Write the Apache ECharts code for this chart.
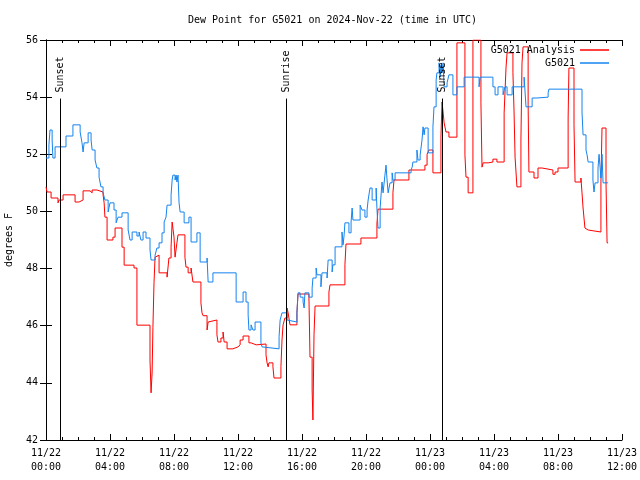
<!DOCTYPE html>
<html>
<head>
<meta charset="utf-8">
<script src="https://cdn.jsdelivr.net/npm/echarts@6/dist/echarts.min.js"></script>
<style>html,body{margin:0;padding:0;background:#fff}#c{width:640px;height:480px}</style>
</head>
<body>
<div id="c"></div>
<script>
// minutes since 2024-11-22 00:00 UTC
const analysisTimes = [0,4,19,45,49,64,109,124,139,165,173,191,214,218,221,229,251,259,285,293,330,341,390,394,398,401,405,409,413,424,454,461,469,473,480,484,491,495,521,525,533,544,551,581,585,589,604,608,615,641,645,656,664,668,679,701,720,728,739,761,769,788,825,829,833,836,851,855,881,885,889,896,904,908,915,941,945,986,990,998,1001,1005,1009,1061,1065,1121,1125,1181,1241,1245,1301,1305,1361,1421,1429,1436,1451,1481,1485,1489,1493,1500,1511,1541,1571,1575,1583,1601,1631,1635,1639,1658,1676,1691,1718,1725,1729,1751,1755,1759,1766,1781,1785,1789,1808,1811,1830,1845,1860,1901,1909,1920,1958,1961,1980,1984,2006,2010,2014,2021,2025,2033,2081,2085,2100,2104,2108];
const analysisValues = [50.86,50.68,50.47,50.3,50.4,50.58,50.33,50.4,50.72,50.65,50.75,50.68,50.58,50.3,49.8,49.0,49.1,49.42,48.75,48.12,48.02,46.02,44.8,43.65,44.38,45.95,47.5,48.4,48.47,47.85,47.7,48.37,48.75,49.63,49.1,48.4,48.9,49.18,48.4,48.05,47.85,48.02,47.53,46.8,46.45,46.35,45.85,46.13,46.2,45.68,45.43,45.57,45.78,45.43,45.19,45.26,45.33,45.5,45.64,45.4,45.33,45.36,44.98,44.7,44.56,44.7,44.56,44.17,44.56,45.5,46.03,46.27,46.62,46.45,46.03,46.45,47.11,47.0,44.9,43.75,42.7,45.68,46.69,47.18,47.43,48.13,48.86,49.07,49.56,50.08,50.65,51.1,51.45,51.62,52.0,52.15,51.35,52.6,53.83,53.48,53.1,52.78,52.6,55.9,51.98,51.2,50.65,56.0,53.8,51.55,51.7,51.73,51.83,51.73,53.45,55.02,55.55,54.85,53.55,51.9,50.86,52.5,55.2,55.76,53.73,51.38,51.17,51.52,51.45,51.3,51.38,51.52,53.27,55.02,53.03,51.03,51.17,50.65,50.12,49.42,49.35,49.28,51.03,52.92,51.03,48.9,48.9];

const stationTimes = [0,11,15,23,26,34,75,101,128,135,139,143,158,169,173,184,191,199,206,214,221,233,240,255,263,270,285,308,315,323,341,349,356,364,375,390,394,409,416,424,435,443,450,454,469,473,476,484,488,491,495,499,503,518,536,544,566,578,604,608,626,713,739,750,758,761,769,776,784,806,810,814,874,878,885,904,908,941,945,953,964,968,971,986,998,1001,1013,1016,1031,1035,1054,1058,1073,1076,1084,1110,1114,1118,1121,1136,1144,1148,1151,1178,1185,1196,1204,1208,1215,1223,1238,1241,1245,1253,1260,1264,1271,1275,1279,1283,1290,1298,1301,1309,1369,1373,1376,1391,1395,1403,1410,1414,1418,1421,1433,1451,1455,1463,1466,1474,1478,1481,1485,1489,1493,1504,1511,1526,1541,1568,1624,1628,1676,1684,1695,1714,1721,1729,1748,1793,1800,1823,1841,1883,1886,2010,2014,2025,2029,2033,2051,2055,2059,2070,2074,2081,2085,2089,2108];
const stationValues = [51.87,52.33,52.85,52.5,51.87,52.26,52.64,53.03,52.78,52.4,52.08,52.4,52.75,52.5,52.15,51.8,51.52,51.2,50.86,50.65,50.4,49.98,50.3,50.05,49.6,49.8,49.95,49.35,49.0,49.28,49.14,49.28,49.0,49.28,49.07,48.65,48.3,48.47,48.72,48.9,49.25,49.63,49.8,50.22,50.57,51.1,51.27,51.1,51.27,51.03,51.27,50.3,49.98,49.6,49.8,48.93,49.25,48.23,48.37,47.53,47.85,46.83,47.18,46.83,46.38,45.85,46.03,45.85,46.13,45.4,45.26,45.19,45.61,46.2,46.45,46.2,46.13,46.45,47.15,47.0,46.83,46.62,47.15,47.0,47.32,47.67,48.02,47.78,47.36,47.85,47.67,48.3,47.88,48.13,48.76,49.28,48.83,49.18,49.6,49.25,49.63,50.12,49.7,50.22,50.05,49.8,50.05,50.4,50.82,50.4,50.82,50.12,49.42,50.12,51.03,50.65,51.27,51.62,51.1,50.65,51.0,51.35,51.1,51.35,51.45,51.55,51.73,52.15,51.8,51.97,52.5,52.96,52.68,52.92,52.05,52.96,53.66,54.6,54.85,55.2,54.7,55.12,54.85,55.2,54.36,54.5,54.78,54.08,54.36,54.7,54.36,54.7,54.36,54.08,54.36,54.08,54.36,54.08,54.36,54.7,53.66,53.97,54.0,54.15,54.28,53.48,52.68,52.15,51.98,51.73,51.1,50.68,51.0,51.52,52.0,51.17,52.0,51.0,51.0];

const eventTimes = [53, 900, 1485];
const eventLabels = ['Sunset', 'Sunrise', 'Sunset'];
const eventTop = 53.95;

const yMin = 42, yMax = 56, yStep = 2;
const xMin = 0, xMax = 2160, xStep = 240;
const seriesNames = ['G5021 Analysis', 'G5021'];
const titleText = 'Dew Point for G5021 on 2024-Nov-22 (time in UTC)';
const yName = 'degrees F';

const FONT = 'DejaVu Sans Mono';
const pairs = (t, v) => t.map((x, i) => [x, v[i]]);

function fmtX(v) {
  const day = 22 + Math.floor(v / 1440);
  const m = v % 1440;
  const hh = String(Math.floor(m / 60)).padStart(2, '0');
  const mm = String(m % 60).padStart(2, '0');
  return '11/' + day + '\n' + hh + ':' + mm;
}

const markData = [];
eventTimes.forEach((t, i) => {
  markData.push([{ coord: [t, yMin], label: { show: false } }, { coord: [t, eventTop] }]);
  markData.push([{ coord: [t, eventTop],
    lineStyle: { color: 'rgba(0,0,0,0)', width: 0 },
    label: { show: true, position: 'insideStart', formatter: eventLabels[i], distance: 6, color: '#000' } },
    { coord: [t, yMax] }]);
});

const chart = echarts.init(document.getElementById('c'), null, { renderer: 'canvas' });
chart.setOption({
  backgroundColor: '#ffffff',
  animation: false,
  textStyle: { fontFamily: FONT, fontSize: 10, color: '#000' },
  title: { text: titleText, left: 183, top: 10,
    textStyle: { fontFamily: FONT, fontSize: 10, fontWeight: 'normal', color: '#000' } },
  legend: {
    data: seriesNames, orient: 'vertical', right: 26, top: 40, align: 'right',
    icon: 'rect', itemWidth: 29, itemHeight: 1.5, itemGap: 3,
    textStyle: { fontFamily: FONT, fontSize: 10, color: '#000' }
  },
  grid: { left: 46, right: 18, top: 40, bottom: 40, containLabel: false, outerBoundsMode: 'none' },
  xAxis: [{
    type: 'value', min: xMin, max: xMax, interval: xStep,
    axisLine: { lineStyle: { color: '#000', width: 1 } },
    axisTick: { inside: true, length: 6, lineStyle: { color: '#000' } },
    minorTick: { show: true, splitNumber: 4, length: 3, lineStyle: { color: '#000' } },
    splitLine: { show: false },
    axisLabel: { formatter: fmtX, fontFamily: FONT, fontSize: 10, color: '#000', margin: 6, lineHeight: 14, showMaxLabel: true, showMinLabel: true }
  }, {
    type: 'value', position: 'top', min: xMin, max: xMax, interval: xStep,
    axisLine: { lineStyle: { color: '#000' } },
    axisTick: { inside: true, length: 6, lineStyle: { color: '#000' } },
    minorTick: { show: true, splitNumber: 4, length: 3, lineStyle: { color: '#000' } },
    axisLabel: { show: false }, splitLine: { show: false }
  }],
  yAxis: [{
    type: 'value', min: yMin, max: yMax, interval: yStep,
    name: yName, nameLocation: 'middle', nameGap: 32, nameRotate: 90,
    nameTextStyle: { fontFamily: FONT, fontSize: 10, color: '#000' },
    axisLine: { show: true, lineStyle: { color: '#000' } },
    axisTick: { show: true, inside: true, length: 6, lineStyle: { color: '#000' } },
    splitLine: { show: false },
    axisLabel: { fontFamily: FONT, fontSize: 10, color: '#000', margin: 8 }
  }, {
    type: 'value', position: 'right', min: yMin, max: yMax, interval: yStep,
    axisLine: { show: true, lineStyle: { color: '#000' } },
    axisTick: { show: true, inside: true, length: 6, lineStyle: { color: '#000' } },
    axisLabel: { show: false }, splitLine: { show: false }
  }],
  series: [{
    name: seriesNames[0], type: 'line', step: 'end', showSymbol: false,
    data: pairs(analysisTimes, analysisValues),
    lineStyle: { color: '#ff0000', width: 1 }, itemStyle: { color: '#ff0000' },
    markLine: {
      silent: true, symbol: 'none', animation: false,
      lineStyle: { color: '#000', width: 1, type: 'solid' },
      label: { fontFamily: FONT, fontSize: 10, color: '#000' },
      data: markData
    }
  }, {
    name: seriesNames[1], type: 'line', step: 'end', showSymbol: false,
    data: pairs(stationTimes, stationValues),
    lineStyle: { color: '#1584ee', width: 1 }, itemStyle: { color: '#1584ee' }
  }]
});
</script>
</body>
</html>
